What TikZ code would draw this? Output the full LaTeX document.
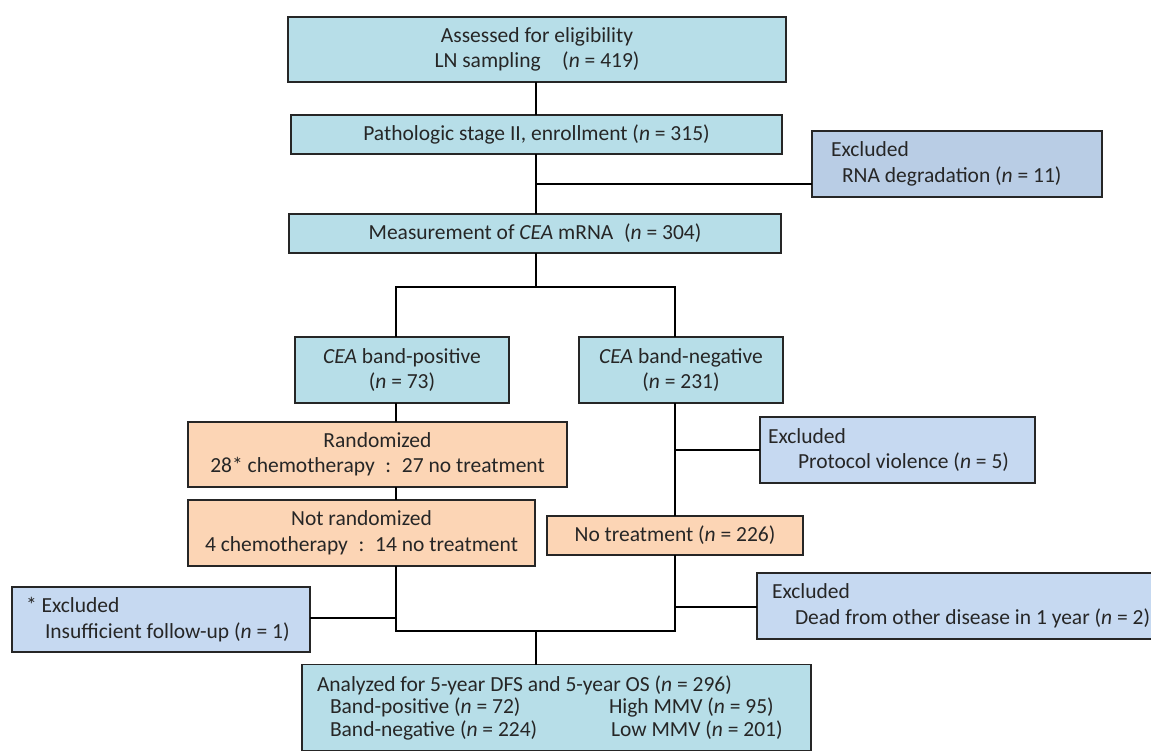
\documentclass[tikz,border=0pt]{standalone}
\usepackage{fontspec}
\setmainfont{Carlito}
\usetikzlibrary{calc}
\definecolor{boxblue}{HTML}{B7DEE8}
\definecolor{exblue}{HTML}{C6D9F1}
\definecolor{exblue2}{HTML}{B9CDE5}
\definecolor{boxorange}{HTML}{FCD5B5}
\definecolor{edge}{HTML}{262626}
\newcommand{\nn}{\textit{n}}
\begin{document}
\begin{tikzpicture}[x=1pt,y=-1pt,
  every node/.style={font=\fontsize{21.5}{25.5}\selectfont, text=black!85},
  basebox/.style={draw=edge, line width=1.2pt, inner sep=0pt, outer sep=0pt, align=center},
  bluebox/.style={basebox, fill=boxblue},
  orbox/.style={basebox, fill=boxorange},
  exbox/.style={basebox, fill=exblue, align=flush left},
  conn/.style={draw=black, line width=1.3pt}]
\useasboundingbox (0,0) rectangle (1151,752);

% main column
\node[bluebox, minimum width=498pt, minimum height=65pt] (assess) at (537,49.5)
  {Assessed for eligibility\\LN sampling\quad(\nn{} = 419)};
\node[bluebox, minimum width=491pt, minimum height=39pt] (patho) at (536.5,134.5)
  {Pathologic stage II, enrollment (\nn{} = 315)};
\node[basebox, fill=exblue2, minimum width=290pt, minimum height=66pt, align=flush left,
  text width=252pt] (rna) at (957,164)
  {Excluded\\\hspace*{11pt}RNA degradation (\nn{} = 11)};
\node[bluebox, minimum width=492pt, minimum height=39pt] (meas) at (535,233.5)
  {Measurement of \textit{CEA} mRNA\enspace(\nn{} = 304)};

% branches
\node[bluebox, minimum width=214pt, minimum height=66pt] (pos) at (402,370)
  {\textit{CEA} band-positive\\(\nn{} = 73)};
\node[bluebox, minimum width=204pt, minimum height=66pt] (neg) at (681,370)
  {\textit{CEA} band-negative\\(\nn{} = 231)};

\node[orbox, minimum width=379pt, minimum height=65pt] (rand) at (377.5,454.5)
  {Randomized\\28* chemotherapy\enspace:\enspace27 no treatment};
\node[orbox, minimum width=347pt, minimum height=66pt] (notrand) at (361.5,533)
  {Not randomized\\4 chemotherapy\enspace:\enspace14 no treatment};
\node[orbox, minimum width=256pt, minimum height=39pt] (notreat) at (675,535.5)
  {No treatment (\nn{} = 226)};

\node[exbox, minimum width=275pt, minimum height=66pt, text width=259pt] (prot) at (897.5,450)
  {Excluded\\\hspace*{30pt}Protocol violence (\nn{} = 5)};
\node[exbox, minimum width=460pt, minimum height=66pt, text width=430pt] (dead) at (987,606)
  {Excluded\\\hspace*{23pt}Dead from other disease in 1 year (\nn{} = 2)};
\node[exbox, minimum width=298pt, minimum height=65pt, text width=270pt] (insuf) at (161,619.5)
  {* Excluded\\\hspace*{19pt}Insufficient follow-up (\nn{} = 1)};

\node[bluebox, minimum width=509pt, minimum height=86pt, align=flush left, text width=479pt,
  font=\fontsize{21.5}{22.5}\selectfont] (anal) at (556.5,707.5)
  {Analyzed for 5-year DFS and 5-year OS (\nn{} = 296)\\
   \hspace*{13pt}\makebox[279pt][l]{Band-positive (\nn{} = 72)}High MMV (\nn{} = 95)\\
   \hspace*{13pt}\makebox[281pt][l]{Band-negative (\nn{} = 224)}Low MMV (\nn{} = 201)};

% connector coordinates
\coordinate (cx) at (536,0);
\coordinate (lx) at (396,0);
\coordinate (rx) at (675,0);
\coordinate (jr) at (536,184);
\coordinate (split) at (536,287);
\coordinate (jp) at (675,450);
\coordinate (jd) at (675,607);
\coordinate (ji) at (396,618);
\coordinate (bl) at (396,631);
\coordinate (br) at (675,631);
\coordinate (bm) at (536,631);

\draw[conn] (assess.south -| cx) -- (patho.north -| cx);
\draw[conn] (patho.south -| cx) -- (meas.north -| cx);
\draw[conn] (jr) -- (jr -| rna.west);
\draw[conn] (meas.south -| cx) -- (split);
\draw[conn] (pos.north -| lx) |- (split) -| (neg.north -| rx);
\draw[conn] (pos.south -| lx) -- (rand.north -| lx);
\draw[conn] (rand.south -| lx) -- (notrand.north -| lx);
\draw[conn] (neg.south -| rx) -- (notreat.north -| rx);
\draw[conn] (jp) -- (prot.west |- jp);
\draw[conn] (notrand.south -| lx) -- (bl) -- (br) -- (notreat.south -| rx);
\draw[conn] (jd) -- (dead.west |- jd);
\draw[conn] (insuf.east |- ji) -- (ji);
\draw[conn] (bm) -- (anal.north -| bm);
\end{tikzpicture}
\end{document}
